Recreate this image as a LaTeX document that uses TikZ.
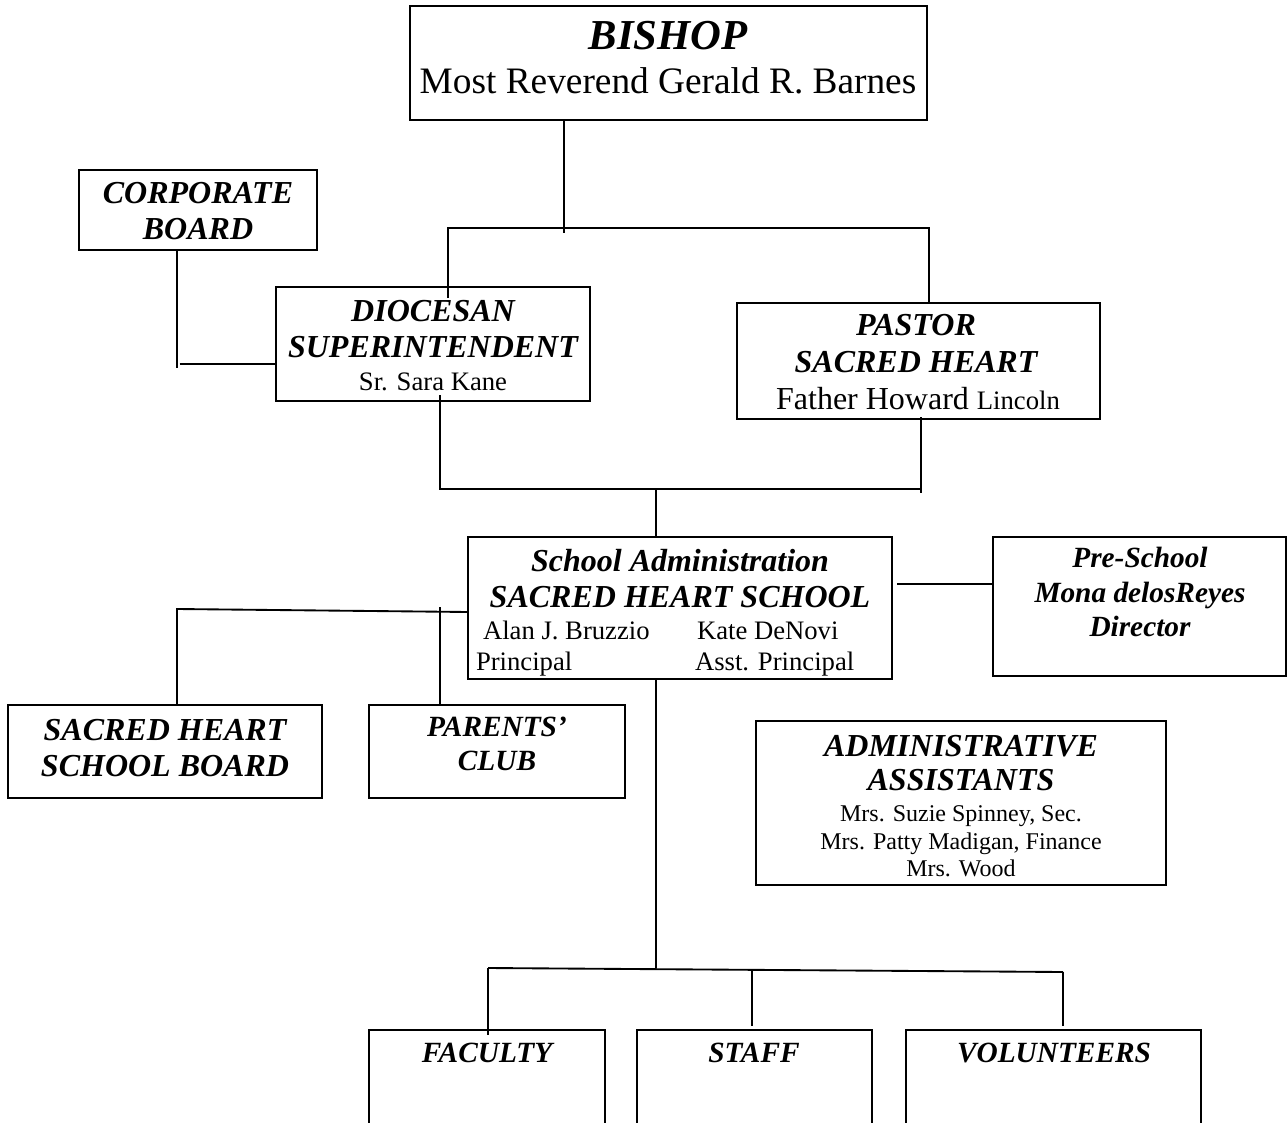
\documentclass[tikz,border=0pt]{standalone}
\usepackage{fontspec}
\setmainfont{Liberation Serif}
\begin{document}
\begin{tikzpicture}[x=0.75pt,y=-0.75pt,
  box/.style={draw,line width=2pt,inner sep=0pt,outer sep=0pt},
  conn/.style={line width=1.4pt},
  txt/.style={inner sep=0pt,outer sep=0pt,anchor=base},
  txtw/.style={inner sep=0pt,outer sep=0pt,anchor=base west},
  hd/.style={font=\bfseries\itshape\fontsize{24}{27}\selectfont},
  hds/.style={font=\bfseries\itshape\fontsize{22}{26}\selectfont},
  nm/.style={font=\fontsize{20}{24}\selectfont},
  nms/.style={font=\fontsize{18}{21}\selectfont}]
\useasboundingbox (0,0) rectangle (1288,1123);
\clip (0,0) rectangle (1288,1123);
% boxes
\node[box,minimum width=387.75pt,minimum height=85.5pt] (bishop) at (668.5,63) {};
\node[box,minimum width=178.5pt,minimum height=60pt] (corp) at (198,210) {};
\node[box,minimum width=235.5pt,minimum height=85.5pt] (dioc) at (433,344) {};
\node[box,minimum width=272.25pt,minimum height=87pt] (pastor) at (918.5,361) {};
\node[box,minimum width=318pt,minimum height=106.5pt] (admin) at (680,608) {};
\node[box,minimum width=219.75pt,minimum height=104.25pt] (pre) at (1139.5,606.5) {};
\node[box,minimum width=235.5pt,minimum height=69.75pt] (board) at (165,751.5) {};
\node[box,minimum width=192pt,minimum height=69.75pt] (parents) at (497,751.5) {};
\node[box,minimum width=307.5pt,minimum height=123pt] (asst) at (961,803) {};
\node[box,minimum width=177pt,minimum height=90pt] (faculty) at (487,1090) {};
\node[box,minimum width=176.25pt,minimum height=90pt] (staff) at (754.5,1090) {};
\node[box,minimum width=221.25pt,minimum height=90pt] (vol) at (1053.5,1090) {};
% texts
\node[txt,font=\bfseries\itshape\fontsize{32}{36}\selectfont] (bishopT) at (668,50) {BISHOP};
\node[txt,font=\fontsize{28}{32}\selectfont] (bishopN) at (668,94) {Most Reverend Gerald R. Barnes};
\node[txt,hd] (corpT1) at (198,204) {CORPORATE};
\node[txt,hd] (corpT2) at (198,240) {BOARD};
\node[txt,hd] (diocT1) at (433,321) {DIOCESAN};
\node[txt,hd] (diocT2) at (433,357) {SUPERINTENDENT};
\node[txt,nm] (diocN) at (433,390) {Sr. Sara Kane};
\node[txt,hd] (pastorT1) at (916,335) {PASTOR};
\node[txt,hd] (pastorT2) at (916,372) {SACRED HEART};
\node[txt,font=\fontsize{24}{28}\selectfont] (pastorN) at (918,409) {Father Howard {\fontsize{20}{24}\selectfont Lincoln}};
\node[txt,hd] (adminT1) at (680,571) {School Administration};
\node[txt,hd] (adminT2) at (680,607) {SACRED HEART SCHOOL};
\node[txtw,nm] (adminN1) at (483,639) {Alan J. Bruzzio};
\node[txtw,nm] (adminN2) at (697,639) {Kate DeNovi};
\node[txtw,nm] (adminR1) at (476,670) {Principal};
\node[txtw,nm] (adminR2) at (695,670) {Asst. Principal};
\node[txt,hds] (preT1) at (1140,567) {Pre-School};
\node[txt,hds] (preT2) at (1140,602) {Mona delosReyes};
\node[txt,hds] (preT3) at (1140,636) {Director};
\node[txt,hd] (boardT1) at (165,740) {SACRED HEART};
\node[txt,hd] (boardT2) at (165,776) {SCHOOL BOARD};
\node[txt,hds] (parentsT1) at (497,736) {PARENTS’};
\node[txt,hds] (parentsT2) at (497,770) {CLUB};
\node[txt,hd] (asstT1) at (961,756) {ADMINISTRATIVE};
\node[txt,hd] (asstT2) at (961,790) {ASSISTANTS};
\node[txt,nms] (asstN1) at (961,821) {Mrs. Suzie Spinney, Sec.};
\node[txt,nms] (asstN2) at (961,849) {Mrs. Patty Madigan, Finance};
\node[txt,nms] (asstN3) at (961,876) {Mrs. Wood};
\node[txt,hds] (facultyT) at (487,1062) {FACULTY};
\node[txt,hds] (staffT) at (754,1062) {STAFF};
\node[txt,hds] (volT) at (1054,1062) {VOLUNTEERS};
% junction coordinates
\coordinate (bx) at (564,228);
\coordinate (lx) at (448,228);
\coordinate (rx) at (929,228);
\coordinate (cx) at (177,364);
\coordinate (m1) at (440,489);
\coordinate (m2) at (921,489);
\coordinate (m3) at (656,489);
\coordinate (p1) at (897,584);
\coordinate (a1) at (468,612);
\coordinate (l1) at (177,609);
\coordinate (l2) at (440,607);
\coordinate (b0) at (656,968);
\coordinate (bl) at (488,968);
\coordinate (bs) at (752,969.5);
\coordinate (br) at (1063,972);
% connectors
\draw[conn] (bishop.south -| bx) -- ++(0,113);
\draw[conn] (lx |- dioc.north) ++(0,11) -- (lx) -- (rx) -- (rx |- pastor.north);
\draw[conn] (corp.south -| cx) -- ++(0,118);
\draw[conn] ([xshift=2pt]cx) -- (dioc.west |- cx);
\draw[conn] (dioc.south -| m1) ++(0,-6) -- (m1) -- (m2);
\draw[conn] (pastor.south -| m2) ++(0,-2) -- ++(0,76);
\draw[conn] (m3) -- (m3 |- admin.north);
\draw[conn] (p1) -- (pre.west |- p1);
\draw[conn] (a1) -- (l1) -- (l1 |- board.north);
\draw[conn] (l2) -- (l2 |- parents.north);
\draw[conn] (admin.south -| b0) -- (b0);
\draw[conn] (bl) -- (br);
\draw[conn] (bl) -- (bl |- faculty.north) -- ++(0,5);
\draw[conn] (bs) -- ([yshift=3pt]bs |- staff.north);
\draw[conn] (br) -- ([yshift=3pt]br |- vol.north);
\end{tikzpicture}
\end{document}
